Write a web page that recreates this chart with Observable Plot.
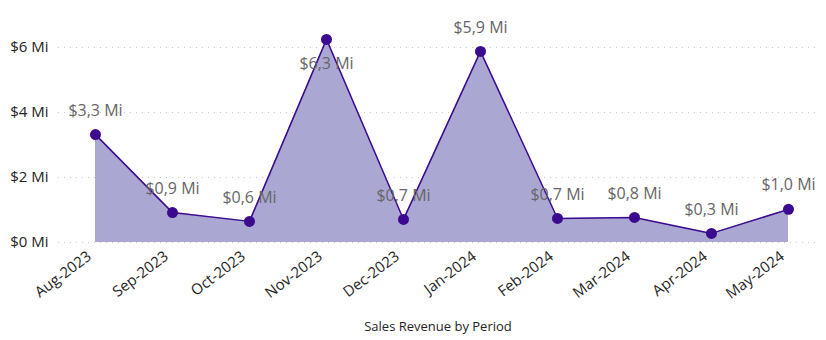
<!DOCTYPE html>
<html>
<head>
<meta charset="utf-8">
<script src="https://cdn.jsdelivr.net/npm/d3@7"></script>
<script src="https://cdn.jsdelivr.net/npm/@observablehq/plot@0.6"></script>
<style>
  body { margin: 0; background: #fff; font-family: "Open Sans", "Noto Sans", sans-serif; }
  #chart { width: 826px; }
  #caption { position: absolute; left: 0; top: 317px; width: 876px; text-align: center; font-size: 13px; color: #252423; }
</style>
</head>
<body>
<div id="chart"></div>
<div id="caption">Sales Revenue by Period</div>
<script>
const periods = ["Aug-2023","Sep-2023","Oct-2023","Nov-2023","Dec-2023","Jan-2024","Feb-2024","Mar-2024","Apr-2024","May-2024"];
const revenue = [3.32, 0.92, 0.65, 6.25, 0.71, 5.88, 0.74, 0.77, 0.28, 1.02];
const labels = ["$3,3 Mi","$0,9 Mi","$0,6 Mi","$6,3 Mi","$0,7 Mi","$5,9 Mi","$0,7 Mi","$0,8 Mi","$0,3 Mi","$1,0 Mi"];
const labelBelow = [false,false,false,true,false,false,false,false,false,false];
const yTicks = [0, 2, 4, 6];

const data = periods.map((p, i) => ({period: p, value: revenue[i], label: labels[i], below: labelBelow[i]}));

const plot = Plot.plot({
  width: 826,
  height: 310,
  marginLeft: 58,
  marginRight: 8,
  marginTop: 47,
  marginBottom: 68,
  style: {fontFamily: "'Open Sans', 'Noto Sans', sans-serif", fontSize: "15px", color: "#252423", background: "transparent"},
  x: {type: "point", domain: periods, padding: 0, insetLeft: 35, insetRight: 28, label: null},
  y: {domain: [0, 6], ticks: yTicks, tickFormat: d => `$${d} Mi`, label: null, tickSize: 0, tickPadding: 10},
  marks: [
    Plot.ruleY(yTicks, {stroke: "#c8c6c4", strokeDasharray: "1,5", strokeWidth: 1.2}),
    Plot.areaY(data, {x: "period", y: "value", fill: "#aba7d3", fillOpacity: 1}),
    Plot.lineY(data, {x: "period", y: "value", stroke: "#3b0a8f", strokeWidth: 1.5}),
    Plot.dot(data, {x: "period", y: "value", r: 5.5, fill: "#3b0a8f", stroke: "none"}),
    Plot.text(data.filter(d => !d.below), {x: "period", y: "value", text: "label", dy: -24, fill: "#666666", fontSize: 16}),
    Plot.text(data.filter(d => d.below), {x: "period", y: "value", text: "label", dy: 24, fill: "#666666", fontSize: 16}),
    Plot.axisX({tickSize: 0, tickRotate: -37, tickPadding: 12, dx: -6, fontSize: 15, label: null})
  ]
});
document.getElementById("chart").appendChild(plot);
</script>
</body>
</html>
